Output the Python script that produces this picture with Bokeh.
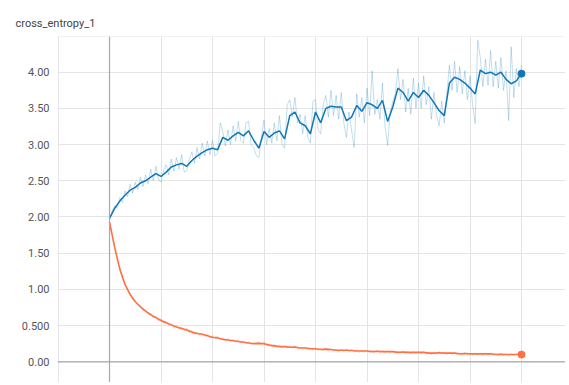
import numpy as np
from bokeh.plotting import figure
from bokeh.models import FixedTicker, CustomJSTickFormatter, Span, Range1d
from bokeh.embed import file_html
from bokeh.resources import INLINE

title_text = "cross_entropy_1"
y_ticks = [0.0, 0.5, 1.0, 1.5, 2.0, 2.5, 3.0, 3.5, 4.0]
x_grid = [-1000, 0, 1000, 2000, 3000, 4000, 5000, 6000, 7000, 8000]

# smoothed series, every 100 steps
steps_s = list(range(0, 8001, 100))
blue_smooth = [
    1.98, 2.12, 2.22, 2.30, 2.37, 2.41, 2.47, 2.50, 2.55, 2.60,
    2.56, 2.62, 2.69, 2.72, 2.74, 2.70, 2.78, 2.84, 2.89, 2.93,
    2.95, 2.93, 3.10, 3.06, 3.12, 3.17, 3.12, 3.19, 3.06, 2.95,
    3.18, 3.10, 3.16, 3.19, 3.08, 3.40, 3.45, 3.30, 3.26, 3.15,
    3.45, 3.30, 3.50, 3.53, 3.52, 3.52, 3.33, 3.38, 3.54, 3.46,
    3.58, 3.55, 3.50, 3.61, 3.32, 3.52, 3.78, 3.72, 3.60, 3.72,
    3.65, 3.75, 3.68, 3.58, 3.47, 3.40, 3.85, 3.93, 3.90, 3.85,
    3.78, 3.70, 4.03, 3.98, 4.00, 3.96, 4.00, 3.90, 3.84, 3.88,
    3.98,
]
orange_smooth = [
    1.93, 1.58, 1.28, 1.07, 0.93, 0.83, 0.76, 0.70, 0.65, 0.61,
    0.57, 0.54, 0.51, 0.48, 0.46, 0.44, 0.41, 0.39, 0.38, 0.36,
    0.34, 0.33, 0.31, 0.30, 0.29, 0.28, 0.27, 0.26, 0.25, 0.255,
    0.25, 0.23, 0.22, 0.21, 0.21, 0.20, 0.205, 0.19, 0.19, 0.18,
    0.18, 0.17, 0.175, 0.17, 0.16, 0.16, 0.16, 0.155, 0.15, 0.15,
    0.15, 0.14, 0.145, 0.14, 0.14, 0.14, 0.13, 0.135, 0.13, 0.13,
    0.13, 0.13, 0.12, 0.12, 0.125, 0.12, 0.12, 0.12, 0.11, 0.115,
    0.11, 0.11, 0.11, 0.11, 0.11, 0.10, 0.105, 0.10, 0.10, 0.10,
    0.10,
]

# raw series, every 50 steps
steps_r = list(range(0, 8001, 50))
blue_raw = [
    1.97, 2.08, 2.15, 2.12, 2.27, 2.20, 2.36, 2.28, 2.45, 2.33,
    2.48, 2.38, 2.55, 2.42, 2.58, 2.46, 2.66, 2.50, 2.70, 2.52,
    2.48, 2.65, 2.72, 2.58, 2.80, 2.63, 2.82, 2.66, 2.86, 2.62,
    2.64, 2.80, 2.90, 2.74, 2.96, 2.80, 3.02, 2.84, 3.05, 2.86,
    3.06, 2.84, 2.88, 3.30, 3.18, 2.98, 3.20, 3.00, 3.26, 3.05,
    3.32, 3.06, 3.02, 3.30, 3.32, 3.00, 2.96, 2.85, 2.82, 3.10,
    3.34, 3.00, 3.22, 3.02, 3.30, 3.05, 3.40, 3.00, 2.95, 3.55,
    3.62, 3.38, 3.65, 3.30, 3.42, 3.15, 3.40, 3.10, 3.02, 3.60,
    3.62, 3.20, 3.15, 3.55, 3.68, 3.38, 3.75, 3.40, 3.68, 3.35,
    3.72, 3.30, 3.10, 3.45, 3.20, 2.96, 3.70, 3.38, 3.65, 3.30,
    3.78, 3.40, 4.02, 3.42, 3.62, 3.35, 3.85, 3.25, 2.99, 3.45,
    3.60, 3.70, 4.05, 3.62, 3.90, 3.45, 3.78, 3.42, 3.92, 3.50,
    3.85, 3.50, 3.95, 3.55, 3.80, 3.35, 3.72, 3.40, 3.26, 3.60,
    3.30, 3.70, 4.10, 3.75, 4.15, 3.72, 4.08, 3.70, 4.02, 3.62,
    3.95, 3.55, 3.29, 4.44, 4.20, 3.80, 4.18, 3.82, 4.30, 3.80,
    4.15, 3.78, 4.20, 3.75, 4.02, 3.33, 4.35, 3.65, 4.05, 3.80,
    4.10,
]
orange_raw = [
    1.93, 1.76, 1.60, 1.40, 1.30, 1.16, 1.09, 0.98, 0.95, 0.86,
    0.85, 0.78, 0.78, 0.71, 0.72, 0.66, 0.67, 0.61, 0.63, 0.57,
    0.59, 0.53, 0.56, 0.50, 0.53, 0.47, 0.50, 0.45, 0.48, 0.43,
    0.46, 0.40, 0.43, 0.38, 0.41, 0.37, 0.40, 0.35, 0.38, 0.33,
    0.36, 0.32, 0.35, 0.30, 0.33, 0.29, 0.32, 0.28, 0.31, 0.27,
    0.30, 0.26, 0.29, 0.25, 0.28, 0.24, 0.27, 0.25, 0.28, 0.25,
    0.28, 0.23, 0.25, 0.21, 0.24, 0.20, 0.23, 0.19, 0.22, 0.19,
    0.22, 0.19, 0.22, 0.18, 0.20, 0.17, 0.20, 0.17, 0.19, 0.16,
    0.19, 0.16, 0.18, 0.16, 0.19, 0.15, 0.18, 0.15, 0.17, 0.14,
    0.17, 0.14, 0.17, 0.14, 0.17, 0.14, 0.16, 0.13, 0.16, 0.13,
    0.16, 0.13, 0.15, 0.13, 0.16, 0.12, 0.15, 0.12, 0.15, 0.12,
    0.15, 0.12, 0.14, 0.12, 0.15, 0.11, 0.14, 0.11, 0.14, 0.11,
    0.14, 0.11, 0.14, 0.11, 0.13, 0.10, 0.13, 0.10, 0.14, 0.11,
    0.13, 0.10, 0.13, 0.10, 0.13, 0.10, 0.12, 0.09, 0.13, 0.10,
    0.12, 0.09, 0.12, 0.09, 0.12, 0.09, 0.12, 0.09, 0.12, 0.09,
    0.11, 0.09, 0.12, 0.09, 0.11, 0.08, 0.11, 0.09, 0.11, 0.09,
    0.10,
]

BLUE = "#0e77b7"
ORANGE = "#ff7043"
GRID = "#e4e4e4"
AXIS0 = "#a8a8a8"
FONT = "'Liberation Sans Narrow', Roboto, sans-serif"

Y_TOP = 4.493
p = figure(width=565, height=382, output_backend="svg", toolbar_location=None,
           x_range=Range1d(-1010, 8854), y_range=Range1d(-0.286, Y_TOP),
           min_border_left=57, min_border_right=0, min_border_top=36,
           min_border_bottom=0, title=title_text)
p.title.align = "left"
p.title.offset = -42
p.title.text_font = FONT
p.title.text_font_size = "11px"
p.title.text_font_style = "normal"
p.title.text_color = "#444444"
p.title.standoff = 13

p.xaxis.visible = False
p.xgrid.ticker = FixedTicker(ticks=x_grid)
p.xgrid.grid_line_color = GRID

yax = p.yaxis[0]
yax.ticker = FixedTicker(ticks=y_ticks)
yax.formatter = CustomJSTickFormatter(code="return tick == 0.5 ? '0.500' : tick.toFixed(2);")
yax.axis_line_color = None
yax.major_tick_line_color = None
yax.minor_tick_line_color = None
yax.major_tick_out = 0
yax.major_label_standoff = 8
yax.major_label_text_font = FONT
yax.major_label_text_font_size = "11px"
yax.major_label_text_color = "#555555"
p.ygrid.grid_line_color = GRID

p.outline_line_color = None
p.background_fill_color = "white"
p.border_fill_color = "white"

p.add_layout(Span(location=Y_TOP, dimension="width", line_color=GRID, line_width=1))
p.add_layout(Span(location=0, dimension="width", line_color=AXIS0, line_width=1.2))
p.add_layout(Span(location=0, dimension="height", line_color=AXIS0, line_width=1.2))

p.line(steps_r, blue_raw, line_color=BLUE, line_alpha=0.25, line_width=1)
p.line(steps_r, orange_raw, line_color=ORANGE, line_alpha=0.35, line_width=1)
p.line(steps_s, blue_smooth, line_color=BLUE, line_width=1.5)
p.line(steps_s, orange_smooth, line_color=ORANGE, line_width=1.6)
p.scatter([steps_s[-1]], [blue_smooth[-1]], size=7, color=BLUE)
p.scatter([steps_s[-1]], [orange_smooth[-1]], size=7, color=ORANGE)

open("out.html", "w").write(file_html(p, INLINE))
